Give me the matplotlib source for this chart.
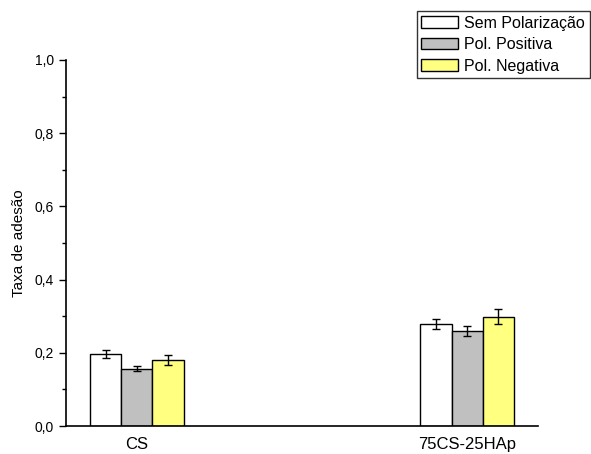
import numpy as np
import matplotlib
matplotlib.use('Agg')
import matplotlib.pyplot as plt
from matplotlib.ticker import MultipleLocator, FuncFormatter

plt.rcParams['font.family'] = ['Liberation Sans', 'DejaVu Sans']

# ── Dados ────────────────────────────────────────────────────
amostras = ['CS', '75CS-25HAp']
series = ['Sem Polarização', 'Pol. Positiva', 'Pol. Negativa']
valores = [
    [0.197, 0.279],   # Sem Polarização
    [0.157, 0.260],   # Pol. Positiva
    [0.181, 0.299],   # Pol. Negativa
]
erros = [
    [0.010, 0.014],
    [0.008, 0.013],
    [0.013, 0.021],
]
cores = ['#ffffff', '#c0c0c0', '#ffff80']

fig = plt.figure(figsize=(5.91, 4.54), dpi=100)
# y: 0 em 426 px, 1.0 em 60 px
ax = fig.add_axes([66 / 591, (454 - 426) / 454, (538 - 66) / 591, (426 - 60) / 454])

x = np.arange(1, len(amostras) + 1)
largura = 0.094
for i, (v, e, c) in enumerate(zip(valores, erros, cores)):
    ax.bar(x + (i - 1) * largura, v, width=largura, color=c, edgecolor='black',
           linewidth=1.0, label=series[i], zorder=2,
           yerr=e, capsize=3, error_kw={'elinewidth': 1, 'capthick': 1, 'ecolor': 'black'})

ax.set_xlim(0.785, 2.215)
ax.set_ylim(0, 1.0)
ax.set_xticks(x)
ax.set_xticklabels(amostras, fontsize=12)
ax.tick_params(axis='x', length=0, pad=8)
ax.yaxis.set_major_locator(MultipleLocator(0.2))
ax.yaxis.set_minor_locator(MultipleLocator(0.1))
ax.yaxis.set_major_formatter(FuncFormatter(lambda v, p: f'{v:.1f}'.replace('.', ',')))
ax.tick_params(axis='y', which='major', length=5, width=1, labelsize=10)
ax.tick_params(axis='y', which='minor', length=3, width=1)
ax.set_ylabel('Taxa de adesão', fontsize=11, labelpad=6)
for s in ('top', 'right'):
    ax.spines[s].set_visible(False)
for s in ('left', 'bottom'):
    ax.spines[s].set_linewidth(1.2)

leg = fig.legend(loc='upper right', bbox_to_anchor=(590 / 591, 1 - 11 / 454), fontsize=11.5,
                 frameon=True, fancybox=False, edgecolor='black', borderpad=0.3,
                 handlelength=2.3, handleheight=0.75, labelspacing=0.4, handletextpad=0.4,
                 borderaxespad=0)
leg.get_frame().set_linewidth(1.0)

fig.savefig('out.png', dpi=100)
